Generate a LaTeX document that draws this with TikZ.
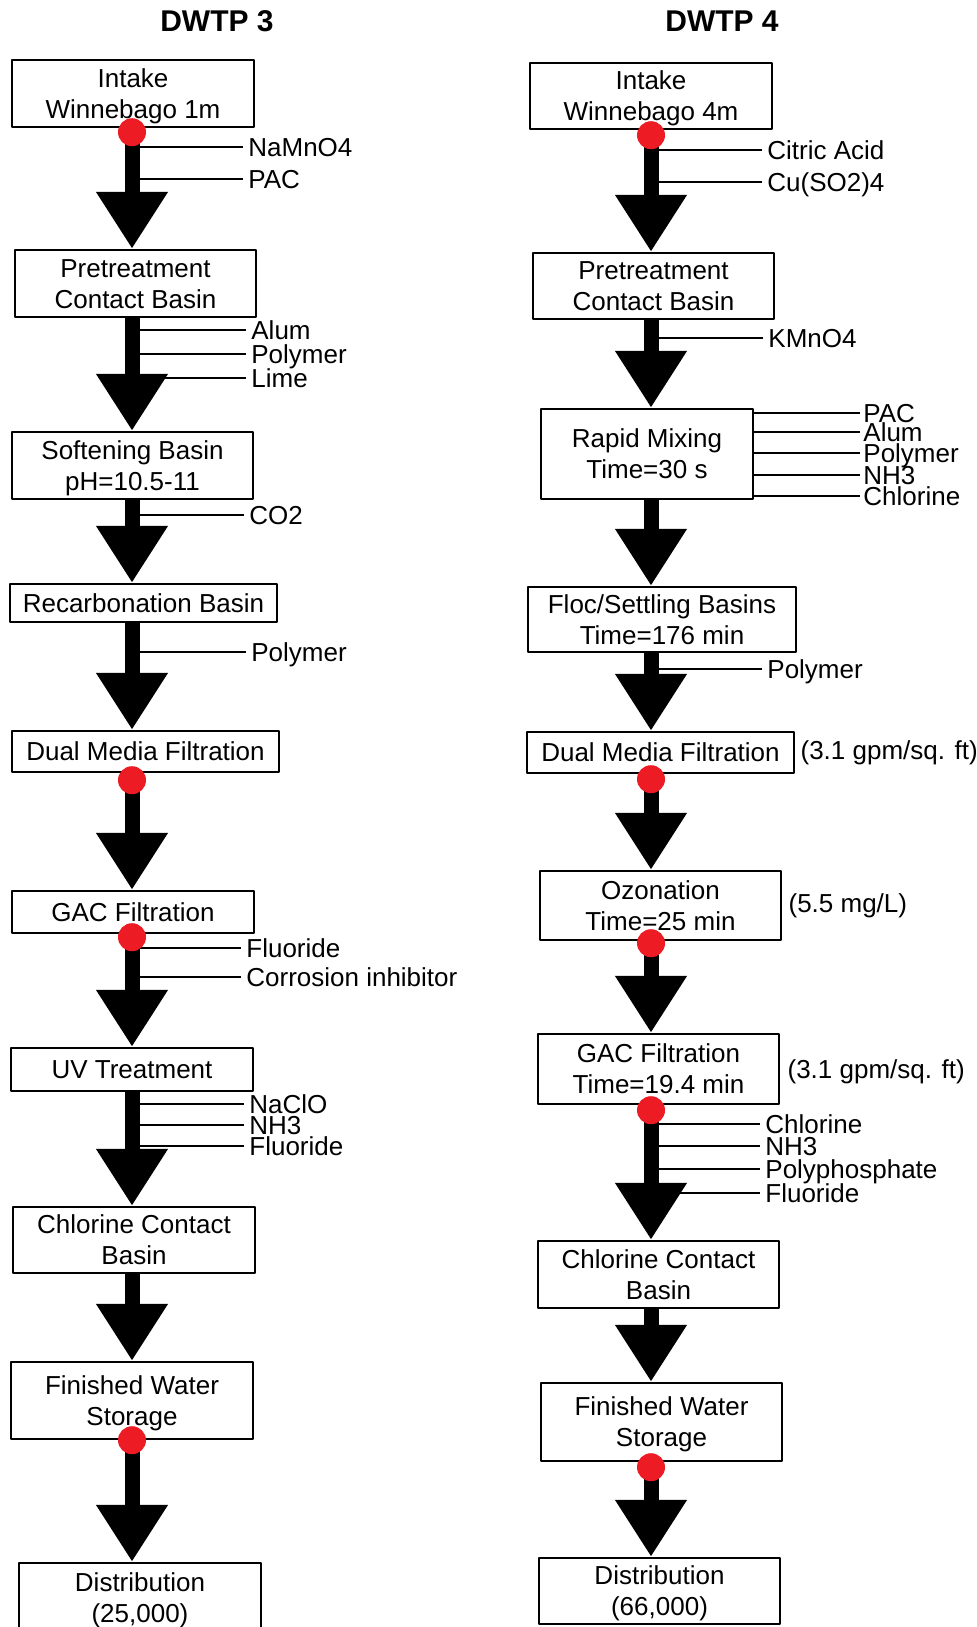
\documentclass[tikz,border=0pt]{standalone}
\usepackage{fontspec}
\setmainfont{Liberation Sans}
\usetikzlibrary{arrows.meta,positioning}
\definecolor{dotred}{HTML}{ED1C24}

\begin{document}
\begin{tikzpicture}[x=0.5pt,y=-0.5pt,line join=round,font=\fontsize{13}{15.5}\selectfont,
	khoi/.style={draw,line width=1.2pt,fill=white,align=center,inner sep=0pt,text height=24.8pt,text depth=0pt},
	motdong/.style={text height=9.3pt,text depth=0pt},
	hoachat/.style={anchor=west,inner xsep=2.5pt,inner ysep=0pt,text height=9.3pt,text depth=0pt},
	nhanh/.style={line width=1pt},
	dong/.style={line width=7.5pt,-{Triangle[width=34pt,length=28.5pt]}},
	diem/.style={circle,fill=dotred,inner sep=0pt,minimum size=14pt},
	ghichu/.style={inner sep=0pt},
	tieude/.style={font=\fontsize{15}{18}\selectfont\bfseries}]
	% Khung hình
	\useasboundingbox (0,0) rectangle (977,1627);
	\clip (0,0) rectangle (977,1627);
	% Trục hai dây chuyền
	\coordinate (trucA) at (132,0);
	\coordinate (trucB) at (651,0);
	% Tiêu đề
	\node [tieude] (t3) at (217,21) {DWTP 3};
	\node [tieude] (t4) at (722,21) {DWTP 4};
	% Các khối DWTP 3
	\node [khoi,minimum width=121pt,minimum height=33.5pt] (in3) at (133,93.5) {Intake\\Winnebago 1m};
	\node [khoi,minimum width=120.5pt,minimum height=33.5pt] (pre3) at (135.5,283.5) {Pretreatment\\Contact Basin};
	\node [khoi,minimum width=120.5pt,minimum height=33.5pt] (soft3) at (132.5,465.5) {Softening Basin\\pH=10.5-11};
	\node [khoi,motdong,minimum width=133.5pt,minimum height=19pt] (rec3) at (143.5,603) {Recarbonation Basin};
	\node [khoi,motdong,minimum width=133.5pt,minimum height=20.5pt] (dmf3) at (145.5,751.5) {Dual Media Filtration};
	\node [khoi,motdong,minimum width=121pt,minimum height=21pt] (gac3) at (133,912) {GAC Filtration};
	\node [khoi,motdong,minimum width=121pt,minimum height=21.5pt] (uv3) at (132,1069.5) {UV Treatment};
	\node [khoi,minimum width=121pt,minimum height=33pt] (cl3) at (134,1240) {Chlorine Contact\\Basin};
	\node [khoi,minimum width=121pt,minimum height=38.5pt] (fws3) at (132,1400.5) {Finished Water\\Storage};
	\node [khoi,minimum width=121pt,minimum height=35pt] (dis3) at (140,1598) {Distribution\\(25,000)};
	% Các khối DWTP 4
	\node [khoi,minimum width=121pt,minimum height=33pt] (in4) at (651,96) {Intake\\Winnebago 4m};
	\node [khoi,minimum width=120.5pt,minimum height=33pt] (pre4) at (653.5,286) {Pretreatment\\Contact Basin};
	\node [khoi,minimum width=106pt,minimum height=45pt] (rm4) at (647,454) {Rapid Mixing\\Time=30 s};
	\node [khoi,minimum width=134pt,minimum height=32.5pt] (floc4) at (662,619.5) {Floc/Settling Basins\\Time=176 min};
	\node [khoi,motdong,minimum width=133.5pt,minimum height=20.5pt] (dmf4) at (660.5,752.5) {Dual Media Filtration};
	\node [khoi,minimum width=120.5pt,minimum height=34.5pt] (oz4) at (660.5,905.5) {Ozonation\\Time=25 min};
	\node [khoi,minimum width=120.5pt,minimum height=35pt] (gac4) at (658.5,1069) {GAC Filtration\\Time=19.4 min};
	\node [khoi,minimum width=120.5pt,minimum height=33.5pt] (cl4) at (658.5,1274.5) {Chlorine Contact\\Basin};
	\node [khoi,minimum width=120.5pt,minimum height=39pt] (fws4) at (661.5,1422) {Finished Water\\Storage};
	\node [khoi,minimum width=120.5pt,minimum height=33pt] (dis4) at (659.5,1591) {Distribution\\(66,000)};
	% Ghi chú bên phải
	\node [ghichu,right=2.5pt of dmf4] (g1) {(3.1 gpm/sq. ft)};
	\node [ghichu,right=3pt of oz4] (g2) {(5.5 mg/L)};
	\node [ghichu,right=3.5pt of gac4,yshift=-1.5pt] (g3) {(3.1 gpm/sq. ft)};
	% Hóa chất DWTP 3
	\node [hoachat] (a1) at (243,147) {NaMnO4};
	\node [hoachat] (a2) at (243,179) {PAC};
	\node [hoachat] (a3) at (246,330) {Alum};
	\node [hoachat] (a4) at (246,354) {Polymer};
	\node [hoachat] (a5) at (246,378) {Lime};
	\node [hoachat] (a6) at (244,515) {CO2};
	\node [hoachat] (a7) at (246,652) {Polymer};
	\node [hoachat] (a8) at (241,948) {Fluoride};
	\node [hoachat] (a9) at (241,977) {Corrosion inhibitor};
	\node [hoachat] (a10) at (244,1104) {NaClO};
	\node [hoachat] (a11) at (244,1125) {NH3};
	\node [hoachat] (a12) at (244,1146) {Fluoride};
	\foreach \i in {1,...,12}
		\draw [nhanh] (a\i.west) -- (a\i.west -| trucA);
	% Hóa chất DWTP 4
	\node [hoachat] (b1) at (762,150) {Citric Acid};
	\node [hoachat] (b2) at (762,182) {Cu(SO2)4};
	\node [hoachat] (b3) at (763,338) {KMnO4};
	\node [hoachat] (b4) at (762,669) {Polymer};
	\node [hoachat] (b5) at (760,1124) {Chlorine};
	\node [hoachat] (b6) at (760,1146) {NH3};
	\node [hoachat] (b7) at (760,1169) {Polyphosphate};
	\node [hoachat] (b8) at (760,1193) {Fluoride};
	\foreach \i in {1,...,8}
		\draw [nhanh] (b\i.west) -- (b\i.west -| trucB);
	\node [hoachat,inner xsep=1.5pt] (m1) at (860,413) {PAC};
	\node [hoachat,inner xsep=1.5pt] (m2) at (860,432) {Alum};
	\node [hoachat,inner xsep=1.5pt] (m3) at (860,453) {Polymer};
	\node [hoachat,inner xsep=1.5pt] (m4) at (860,475) {NH3};
	\node [hoachat,inner xsep=1.5pt] (m5) at (860,496) {Chlorine};
	\foreach \i in {1,...,5}
		\draw [nhanh] (m\i.west) -- (m\i.west -| rm4.east);
	% Mũi tên DWTP 3
	\draw [dong] (in3.south -| trucA) -- (pre3.north -| trucA);
	\draw [dong] (pre3.south -| trucA) -- (soft3.north -| trucA);
	\draw [dong] (soft3.south -| trucA) -- (rec3.north -| trucA);
	\draw [dong] (rec3.south -| trucA) -- (dmf3.north -| trucA);
	\draw [dong] (dmf3.south -| trucA) -- (gac3.north -| trucA);
	\draw [dong] (gac3.south -| trucA) -- (uv3.north -| trucA);
	\draw [dong] (uv3.south -| trucA) -- (cl3.north -| trucA);
	\draw [dong] (cl3.south -| trucA) -- (fws3.north -| trucA);
	\draw [dong] (fws3.south -| trucA) -- (dis3.north -| trucA);
	% Mũi tên DWTP 4
	\draw [dong] (in4.south -| trucB) -- (pre4.north -| trucB);
	\draw [dong] (pre4.south -| trucB) -- (rm4.north -| trucB);
	\draw [dong] (rm4.south -| trucB) -- (floc4.north -| trucB);
	\draw [dong] (floc4.south -| trucB) -- (dmf4.north -| trucB);
	\draw [dong] (dmf4.south -| trucB) -- (oz4.north -| trucB);
	\draw [dong] (oz4.south -| trucB) -- (gac4.north -| trucB);
	\draw [dong] (gac4.south -| trucB) -- (cl4.north -| trucB);
	\draw [dong] (cl4.south -| trucB) -- (fws4.north -| trucB);
	\draw [dong] (fws4.south -| trucB) -- (dis4.north -| trucB);
	% Điểm lấy mẫu
	\node [diem,yshift=-2pt] (d1) at (in3.south -| trucA) {};
	\node [diem,yshift=-3.5pt] (d2) at (dmf3.south -| trucA) {};
	\node [diem,yshift=-1.5pt] (d3) at (gac3.south -| trucA) {};
	\node [diem] (d4) at (fws3.south -| trucA) {};
	\node [diem,yshift=-2.5pt] (d5) at (in4.south -| trucB) {};
	\node [diem,yshift=-2.5pt] (d6) at (dmf4.south -| trucB) {};
	\node [diem,yshift=-1pt] (d7) at (oz4.south -| trucB) {};
	\node [diem,yshift=-2.5pt] (d8) at (gac4.south -| trucB) {};
	\node [diem,yshift=-2.5pt] (d9) at (fws4.south -| trucB) {};
\end{tikzpicture}
\end{document}
